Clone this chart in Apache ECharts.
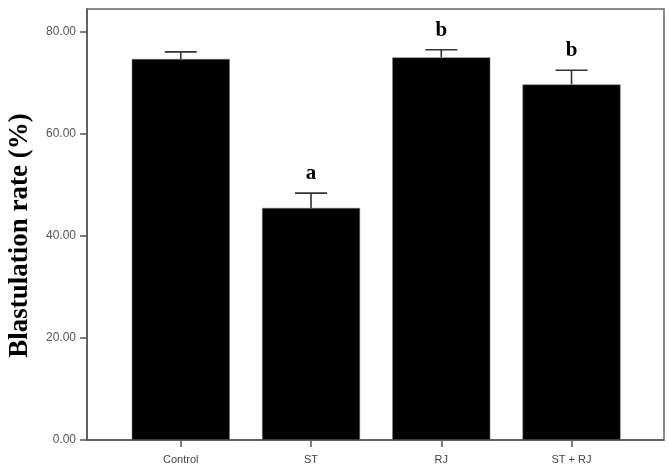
<!DOCTYPE html>
<html>
<head>
<meta charset="utf-8">
<script src="https://cdn.jsdelivr.net/npm/echarts@6/dist/echarts.min.js"></script>
<style>
  html, body { margin: 0; padding: 0; background: #fff; }
  #chart { width: 669px; height: 468px; }
</style>
</head>
<body>
<div id="chart"></div>
<script>
const categories = ['Control', 'ST', 'RJ', 'ST + RJ']
const means = [74.7, 45.5, 75.0, 69.7]
const errors = [1.4, 2.9, 1.5, 2.8]
const letters = ['', 'a', 'b', 'b']
const yTicks = [0, 20, 40, 60, 80]
const xPositions = [1, 2, 3, 4]

const chart = echarts.init(document.getElementById('chart'))

chart.setOption({
  animation: false,
  grid: {
    left: 87,
    right: 5,
    top: 9,
    bottom: 28,
    outerBoundsMode: 'none',
    show: true,
    borderColor: '#666',
    borderWidth: 1.5
  },
  xAxis: {
    type: 'value',
    min: 0.28,
    max: 4.71,
    splitLine: { show: false },
    axisLine: { show: true, lineStyle: { color: '#555', width: 1.5 } },
    axisTick: {
      show: true,
      customValues: xPositions,
      length: 7,
      lineStyle: { color: '#555', width: 1.5 }
    },
    axisLabel: {
      customValues: xPositions,
      margin: 14,
      color: '#444',
      fontSize: 11,
      fontFamily: 'Liberation Sans, Arial, sans-serif',
      formatter: function (v) { return categories[Math.round(v) - 1] }
    }
  },
  yAxis: {
    type: 'value',
    min: 0,
    max: 84.5,
    splitLine: { show: false },
    axisLine: { show: true, lineStyle: { color: '#555', width: 1.5 } },
    axisTick: {
      show: true,
      customValues: yTicks,
      length: 7,
      lineStyle: { color: '#555', width: 1.5 }
    },
    axisLabel: {
      customValues: yTicks,
      margin: 11,
      color: '#555',
      fontSize: 12,
      fontFamily: 'Liberation Sans, Arial, sans-serif',
      formatter: function (v) { return v.toFixed(2) }
    },
    name: 'Blastulation rate (%)',
    nameLocation: 'middle',
    nameGap: 53,
    nameTextStyle: {
      color: '#000',
      fontSize: 27,
      fontWeight: 'bold',
      fontFamily: 'Liberation Serif, Times New Roman, serif',
      padding: [0, 22, 0, 0]
    }
  },
  series: [
    {
      type: 'bar',
      barWidth: 98,
      data: xPositions.map((x, i) => [x, means[i]]),
      itemStyle: { color: '#000', borderColor: '#777', borderWidth: 0.5 }
    },
    {
      type: 'custom',
      data: xPositions.map((x, i) => [x, means[i], errors[i]]),
      renderItem: function (params, api) {
        const x = api.value(0)
        const m = api.value(1)
        const e = api.value(2)
        const base = api.coord([x, m])
        const top = api.coord([x, m + e])
        const style = { stroke: '#333', lineWidth: 1.6 }
        return {
          type: 'group',
          children: [
            { type: 'line', shape: { x1: top[0], y1: base[1], x2: top[0], y2: top[1] }, style: style },
            { type: 'line', shape: { x1: top[0] - 16, y1: top[1], x2: top[0] + 16, y2: top[1] }, style: style },
            {
              type: 'text',
              x: top[0],
              y: top[1] - 9,
              style: {
                text: letters[params.dataIndex],
                fill: '#000',
                font: 'bold 21px "Liberation Serif", "Times New Roman", serif',
                align: 'center',
                verticalAlign: 'bottom'
              }
            }
          ]
        }
      },
      z: 3
    }
  ]
})
</script>
</body>
</html>
